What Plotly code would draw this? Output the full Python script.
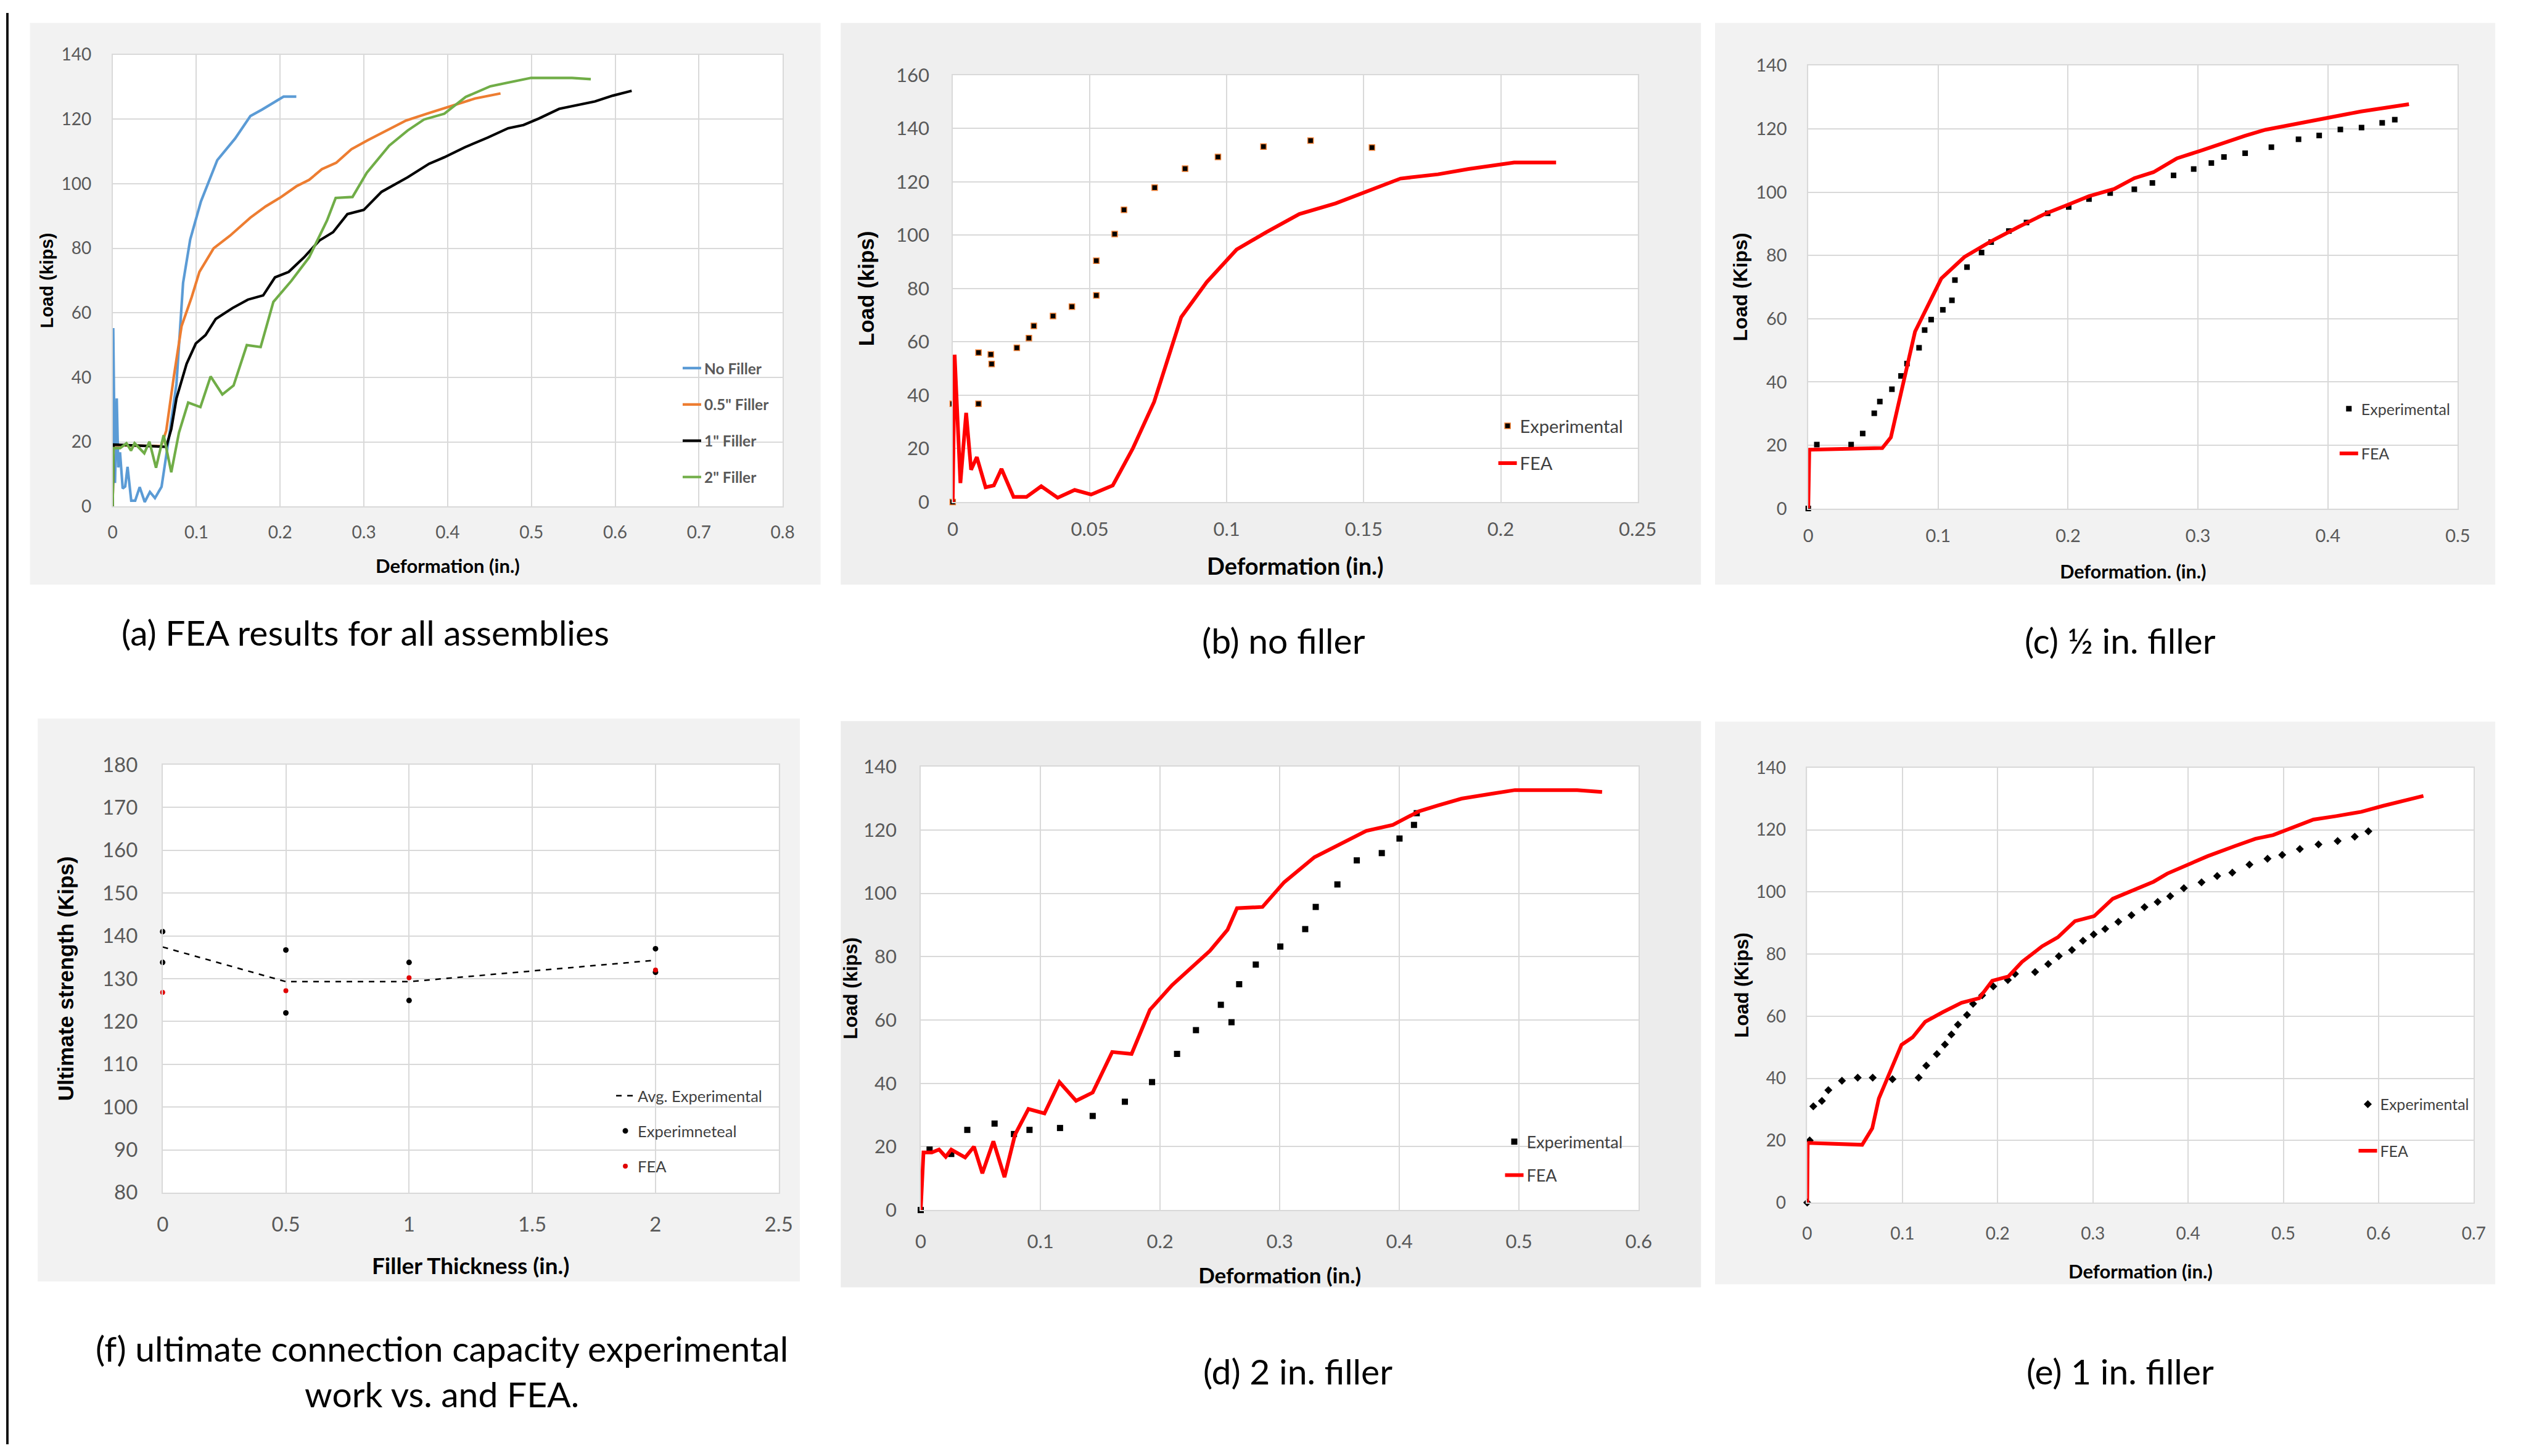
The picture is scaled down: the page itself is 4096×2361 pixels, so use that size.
import plotly.graph_objects as go

W, H = 4096, 2361

# ---------------- DATA ----------------
# (a) FEA results for all assemblies
a_nofill_x = [0, 0.0007, 0.0028, 0.0049, 0.0067, 0.0088, 0.012, 0.015, 0.0178, 0.0222, 0.0269, 0.0323, 0.0383,
              0.0445, 0.0505, 0.0584, 0.067, 0.0762, 0.0841, 0.0926, 0.1054, 0.1249, 0.1462, 0.1645, 0.1785,
              0.2041, 0.2193]
a_nofill_y = [0, 55.3, 7.3, 33.5, 12.1, 16.8, 5.6, 6.2, 12.3, 1.8, 1.8, 6.0, 1.4, 4.5, 2.6, 6.1, 21, 38, 69.3,
              82.7, 94.5, 107.3, 114, 121, 123, 127, 127]
a_half_x = [0, 0.0012, 0.0579, 0.064, 0.0731, 0.0823, 0.0944, 0.1036, 0.1206, 0.1401, 0.1645, 0.1828, 0.2011,
            0.2193, 0.2346, 0.2498, 0.2669, 0.2851, 0.3046, 0.3229, 0.3503, 0.3778, 0.4021, 0.4326, 0.4631]
a_half_y = [0, 19, 18.7, 23.5, 40.3, 55.9, 64.9, 72.7, 80, 83.9, 89.5, 93, 95.9, 99.2, 101.2, 104.5, 106.5,
            110.7, 113.5, 116, 119.6, 121.9, 123.9, 126.4, 128]
a_one_x = [0, 0.001, 0.064, 0.07, 0.0762, 0.0883, 0.0993, 0.1109, 0.1231, 0.1432, 0.1615, 0.1797, 0.1938,
           0.2102, 0.2285, 0.2468, 0.2632, 0.2803, 0.2998, 0.3211, 0.3522, 0.3778, 0.396, 0.4204, 0.4478,
           0.4722, 0.4905, 0.5088, 0.5331, 0.5545, 0.5758, 0.5971, 0.6197]
a_one_y = [0, 19.2, 18.5, 24, 33.5, 44.2, 50.5, 53.1, 58.1, 61.5, 64.1, 65.4, 71, 72.7, 77.2, 82.4, 85, 90.6,
           91.9, 97.5, 102, 106.2, 108.2, 111.3, 114.3, 117.2, 118.2, 120.2, 123.2, 124.3, 125.5, 127.3, 128.8]
a_two_x = [0, 0.001, 0.009, 0.0165, 0.0219, 0.0262, 0.0378, 0.0439, 0.0518, 0.0609, 0.07, 0.0792, 0.0902,
           0.1048, 0.117, 0.131, 0.1444, 0.1602, 0.1767, 0.1919, 0.2133, 0.2346, 0.2559, 0.2663, 0.2864,
           0.3034, 0.3302, 0.3522, 0.3717, 0.396, 0.4216, 0.4509, 0.4692, 0.4996, 0.5484, 0.5709]
a_two_y = [0, 18.1, 18.1, 19.6, 17.3, 19.6, 16.5, 20.1, 12, 22.1, 10.6, 22.9, 32.2, 30.8, 40.3, 34.7, 37.5,
           50, 49.4, 63.4, 69.9, 77.2, 88.6, 95.6, 95.9, 103.4, 111.8, 116.5, 119.9, 121.7, 126.9, 130.2,
           131.2, 132.8, 132.8, 132.4]

# (b) no filler
b_exp_x = [0, 0, 0.0094, 0.0094, 0.0139, 0.0142, 0.0234, 0.0278, 0.0296, 0.0366, 0.0435, 0.0524, 0.0524,
           0.0591, 0.0625, 0.0737, 0.0848, 0.0968, 0.1134, 0.1306, 0.153]
b_exp_y = [0, 36.8, 36.8, 56.0, 55.3, 51.7, 57.8, 61.4, 66.0, 69.7, 73.2, 77.4, 90.4, 100.4, 109.5, 117.8,
           124.9, 129.3, 133.2, 135.4, 132.8]
b_fea_x = [0, 0.0007, 0.0028, 0.0049, 0.0067, 0.0088, 0.012, 0.015, 0.0178, 0.0222, 0.0269, 0.0323, 0.0383,
           0.0445, 0.0505, 0.0584, 0.0657, 0.0735, 0.0834, 0.0927, 0.1036, 0.1144, 0.1265, 0.1397, 0.1634,
           0.1771, 0.1883, 0.2049, 0.2202]
b_fea_y = [0, 55.2, 7.1, 33.4, 12.1, 16.8, 5.5, 6.2, 12.4, 1.9, 1.9, 5.9, 1.6, 4.5, 2.8, 6.2, 20.0, 37.5, 69.3,
           82.4, 94.6, 101.1, 107.9, 111.9, 121.2, 122.8, 124.8, 127.2, 127.2]

# (c) 1/2 in. filler
c_exp_x = [0, 0.0066, 0.033, 0.0419, 0.0508, 0.0551, 0.0644, 0.0714, 0.076, 0.0853, 0.0896, 0.0946, 0.1036,
           0.1106, 0.1129, 0.1222, 0.1334, 0.1408, 0.1544, 0.168, 0.1843, 0.2005, 0.2161, 0.2324, 0.251,
           0.2649, 0.2812, 0.2967, 0.3103, 0.32, 0.3363, 0.3565, 0.3774, 0.3933, 0.4096, 0.4259, 0.4418, 0.4515]
c_exp_y = [0, 20.2, 20.2, 23.7, 30.1, 33.8, 37.7, 41.9, 45.8, 50.8, 56.4, 59.7, 62.8, 65.8, 72.2, 76.3, 80.9,
           84.2, 87.7, 90.4, 93.3, 95.3, 97.8, 99.7, 100.9, 102.9, 105.3, 107.3, 109.2, 111.1, 112.3, 114.2,
           116.7, 117.9, 119.8, 120.4, 121.9, 122.9]
c_fea_x = [0, 0.0008, 0.057, 0.0636, 0.0822, 0.1024, 0.1202, 0.1404, 0.1618, 0.1831, 0.2005, 0.2161, 0.2355,
           0.251, 0.2657, 0.2839, 0.3014, 0.3169, 0.3363, 0.3518, 0.3712, 0.3984, 0.4255, 0.4624]
c_fea_y = [0, 18.6, 19.1, 22.5, 55.9, 72.7, 79.5, 84.4, 89, 93.3, 96.1, 98.7, 101, 104.4, 106.3, 110.7, 113,
           115.2, 117.8, 119.7, 121.2, 123.5, 125.5, 127.8]

# (f) ultimate connection capacity
f_thick = [0, 0.5, 1, 2]
f_exp_x = [0, 0, 0.5, 0.5, 1, 1, 2, 2]
f_exp_y = [141, 133.8, 136.7, 122, 133.8, 124.9, 137, 131.5]
f_avg_y = [137.4, 129.3, 129.3, 134.3]
f_fea_y = [126.8, 127.2, 130.2, 132]

# (d) 2 in. filler
d_exp_x = [0, 0.0074, 0.0255, 0.0389, 0.0617, 0.0779, 0.0909, 0.1164, 0.1437, 0.1706, 0.1933, 0.2142, 0.23,
           0.2508, 0.2597, 0.2661, 0.28, 0.3005, 0.3213, 0.3301, 0.3482, 0.3644, 0.3853, 0.4001, 0.4122, 0.4145]
d_exp_y = [0, 19.1, 17.7, 25.3, 27.3, 24, 25.3, 25.9, 29.7, 34.2, 40.4, 49.3, 56.8, 64.8, 59.3, 71.3, 77.5,
           83.2, 88.7, 95.7, 102.8, 110.4, 112.7, 117.3, 121.6, 125.3]
d_fea_x = [0, 0.0023, 0.0093, 0.0153, 0.0209, 0.0255, 0.0371, 0.0445, 0.0515, 0.0607, 0.07, 0.0788, 0.09,
           0.1034, 0.1159, 0.1298, 0.1437, 0.16, 0.1762, 0.1915, 0.21, 0.2263, 0.2416, 0.2564, 0.2643, 0.2856,
           0.3037, 0.329, 0.3491, 0.3723, 0.3945, 0.4163, 0.4326, 0.452, 0.4766, 0.4966, 0.5485, 0.5694]
d_fea_y = [0, 18.2, 18.2, 19.1, 16.8, 19.1, 16.6, 20, 11.6, 21.7, 10.4, 23.8, 31.9, 30.5, 40.4, 34.5, 37.1,
           49.9, 49.3, 63.2, 71, 76.6, 81.8, 88.5, 95.3, 95.7, 103.5, 111.4, 115.4, 119.7, 121.6, 125.9, 127.8,
           129.9, 131.4, 132.6, 132.6, 132]

# (e) 1 in. filler
e_exp_x = [0, 0.0026, 0.0064, 0.0154, 0.0222, 0.0365, 0.053, 0.0688, 0.0895, 0.117, 0.125, 0.1361, 0.1446,
           0.1514, 0.1583, 0.1678, 0.1742, 0.1837, 0.1954, 0.2107, 0.2182, 0.2393, 0.2531, 0.2642, 0.278,
           0.2896, 0.3008, 0.3129, 0.3267, 0.3405, 0.3542, 0.368, 0.3812, 0.3955, 0.4141, 0.4305, 0.4464,
           0.4644, 0.4834, 0.4988, 0.5173, 0.5369, 0.557, 0.575, 0.5893]
e_exp_y = [0, 20, 31, 32.7, 36.2, 39.2, 40.2, 40.2, 39.7, 40.2, 44.1, 47.8, 50.9, 54.1, 57.3, 60.4, 64, 66.7,
           69.6, 71.6, 73.6, 74.2, 76.8, 79.3, 81.3, 84.3, 86.3, 88.1, 90.4, 92.5, 95.1, 96.8, 98.6, 101.2,
           103.1, 105.1, 106.2, 108.8, 110.7, 111.9, 113.8, 115.3, 116.4, 117.8, 119.5]
e_fea_x = [0, 0.0005, 0.0577, 0.0683, 0.0752, 0.0868, 0.099, 0.1107, 0.1239, 0.1424, 0.162, 0.1806, 0.1943,
           0.2113, 0.2256, 0.2467, 0.2632, 0.2812, 0.3013, 0.3209, 0.3426, 0.3638, 0.3781, 0.3993, 0.4204,
           0.4495, 0.4707, 0.4893, 0.5104, 0.5316, 0.5555, 0.5819, 0.6047, 0.6243, 0.6471]
e_fea_y = [0, 19.2, 18.6, 23.9, 33.5, 42.3, 50.8, 53.2, 58.2, 61.3, 64.3, 65.8, 71.4, 72.8, 77.5, 82.5, 85.4,
           90.6, 92.2, 97.8, 100.7, 103.3, 105.9, 108.6, 111.5, 114.8, 117.1, 118.3, 120.9, 123.3, 124.4, 125.8,
           127.7, 129.3, 130.9]

captions = {
    "a": "(a) FEA results for all assemblies",
    "b": "(b) no filler",
    "c": "(c) ½ in. filler",
    "f": "(f) ultimate connection capacity experimental<br>work vs. and FEA.",
    "d": "(d) 2 in. filler",
    "e": "(e) 1 in. filler",
}

# ---------------- LAYOUT HELPERS (px -> paper) ----------------
def fx(px):
    return px / W


def fy(py):
    return 1 - py / H


GRID = "#d9d9d9"
TICKC = "#595959"
SANS = "Lato"
HEAVY = "Liberation Sans"

# panel geometry (px): plot area, background box
P = {
    "a": dict(ax="x", ay="y", leg="legend", plot=(174.4, 1271.9, 68.8, 814.1), bg=(39, 1334, 16.5, 943), bgc="#f2f2f2"),
    "b": dict(ax="x2", ay="y2", leg="legend2", plot=(1550.4, 2672.4, 102.4, 806.7), bg=(1367, 2776, 16.5, 943), bgc="#efefef"),
    "c": dict(ax="x3", ay="y3", leg="legend3", plot=(2951.7, 4015.6, 86.8, 817.4), bg=(2799, 4077, 16.5, 943), bgc="#f2f2f2"),
    "f": dict(ax="x4", ay="y4", leg="legend4", plot=(256.3, 1265.4, 1240.0, 1945.9), bg=(51.6, 1300, 1164, 2092.5), bgc="#f2f2f2"),
    "d": dict(ax="x5", ay="y5", leg="legend5", plot=(1498.0, 2674.0, 1243.2, 1974.6), bg=(1367, 2776, 1168, 2102), bgc="#ececec"),
    "e": dict(ax="x6", ay="y6", leg="legend6", plot=(2950.0, 4041.8, 1244.9, 1962.3), bg=(2799, 4077, 1169, 2097), bgc="#f2f2f2"),
}

fig = go.Figure()


def add(key, **kw):
    p = P[key]
    fig.add_trace(go.Scatter(xaxis=p["ax"], yaxis=p["ay"], legend=p["leg"], cliponaxis=False, **kw))


LW_A = 4.2
LW_RED = 6

# (a)
add("a", x=a_nofill_x, y=a_nofill_y, mode="lines", name="No Filler", legendgroup="a1",
    line=dict(color="#5B9BD5", width=LW_A))
add("a", x=a_half_x, y=a_half_y, mode="lines", name="0.5\" Filler", legendgroup="a2",
    line=dict(color="#ED7D31", width=LW_A))
add("a", x=a_one_x, y=a_one_y, mode="lines", name="1\" Filler", legendgroup="a3",
    line=dict(color="#000000", width=LW_A))
add("a", x=a_two_x, y=a_two_y, mode="lines", name="2\" Filler", legendgroup="a4",
    line=dict(color="#70AD47", width=LW_A))
# (b)
add("b", x=b_exp_x, y=b_exp_y, mode="markers", name="Experimental", legendgroup="b1",
    marker=dict(symbol="square", size=9, color="#000000", line=dict(color="#ED7D31", width=1.5)))
add("b", x=b_fea_x, y=b_fea_y, mode="lines", name="FEA", legendgroup="b2",
    line=dict(color="#FF0000", width=LW_RED))
# (c)
add("c", x=c_exp_x, y=c_exp_y, mode="markers", name="Experimental", legendgroup="c1",
    marker=dict(symbol="square", size=9, color="#000000"))
add("c", x=c_fea_x, y=c_fea_y, mode="lines", name="FEA", legendgroup="c2",
    line=dict(color="#FF0000", width=LW_RED))
# (f)
add("f", x=f_thick, y=f_avg_y, mode="lines", name="Avg. Experimental", legendgroup="f1",
    line=dict(color="#000000", width=2.5, dash="dash"))
add("f", x=f_exp_x, y=f_exp_y, mode="markers", name="Experimneteal", legendgroup="f2",
    marker=dict(symbol="circle", size=9, color="#000000"))
add("f", x=f_thick, y=f_fea_y, mode="markers", name="FEA", legendgroup="f3",
    marker=dict(symbol="circle", size=8, color="#E00000"))
# (d)
add("d", x=d_exp_x, y=d_exp_y, mode="markers", name="Experimental", legendgroup="d1",
    marker=dict(symbol="square", size=10, color="#000000"))
add("d", x=d_fea_x, y=d_fea_y, mode="lines", name="FEA", legendgroup="d2",
    line=dict(color="#FF0000", width=LW_RED))
# (e)
add("e", x=e_exp_x, y=e_exp_y, mode="markers", name="Experimental", legendgroup="e1",
    marker=dict(symbol="diamond", size=10, color="#000000"))
add("e", x=e_fea_x, y=e_fea_y, mode="lines", name="FEA", legendgroup="e2",
    line=dict(color="#FF0000", width=LW_RED))

# axes specs: key -> (xrange, dx, yrange, dy, tickfont, xtitle, xtfont, xstand, ytitle, ytfont, ystand, ylab_gap, xlab_gap)
A = {
    "a": ([0, 0.8], 0.1, [0, 140], 20, 28, "Deformation (in.)", 31, 30, "Load (kips)", 29, 4, 27, 16),
    "b": ([0, 0.25], 0.05, [0, 160], 20, 31, "Deformation (in.)", 38, 30, "Load (kips)", 35, 25, 30, 16),
    "c": ([0, 0.5], 0.1, [0, 140], 20, 29, "Deformation. (in.)", 30.5, 33, "Load (Kips)", 32, 4, 27, 18),
    "f": ([0, 2.5], 0.5, [80, 180], 10, 33, "Filler Thickness (in.)", 37, 37, "Ultimate strength (Kips)", 35, 36, 32, 22),
    "d": ([0, 0.6], 0.1, [0, 140], 20, 31, "Deformation (in.)", 35, 26, "Load (kips)", 31, 0, 31, 23),
    "e": ([0, 0.7], 0.1, [0, 140], 20, 28, "Deformation (in.)", 31, 36, "Load (Kips)", 31, 3, 27, 25),
}

layout = dict(
    width=W, height=H, margin=dict(l=0, r=0, t=0, b=0, pad=0),
    paper_bgcolor="white", plot_bgcolor="rgba(0,0,0,0)",
    font=dict(family=SANS, color=TICKC),
    shapes=[], annotations=[],
)

for key, p in P.items():
    xr, dx, yr, dy, tfs, xt, xtf, xst, yt, ytf, yst, ygap, xgap = A[key]
    x0, x1, y0, y1 = p["plot"]
    xname = "xaxis" + p["ax"][1:]
    yname = "yaxis" + p["ay"][1:]
    common = dict(showgrid=True, gridcolor=GRID, gridwidth=1.5, showline=True, linecolor=GRID, linewidth=1.5,
                  mirror=True, zeroline=False, ticks="", ticklen=0, fixedrange=True,
                  tickfont=dict(family=SANS, size=tfs, color=TICKC))
    layout[xname] = dict(common, domain=[fx(x0), fx(x1)], anchor=p["ay"], range=xr, dtick=dx, tick0=0,
                         ticklabelstandoff=xgap,
                         title=dict(text=xt, standoff=xst,
                                    font=dict(family=SANS, size=xtf, color="#000000", weight="bold")))
    layout[yname] = dict(common, domain=[fy(y1), fy(y0)], anchor=p["ax"], range=yr, dtick=dy, tick0=0,
                         ticklabelstandoff=ygap,
                         title=dict(text=yt, standoff=yst,
                                    font=dict(family=HEAVY, size=ytf, color="#000000", weight="bold")))
    bx0, bx1, by0, by1 = p["bg"]
    layout["shapes"].append(dict(type="rect", xref="paper", yref="paper", x0=fx(bx0), x1=fx(bx1),
                                 y0=fy(by1), y1=fy(by0), fillcolor=p["bgc"], line=dict(width=0),
                                 layer="below"))
    layout["shapes"].append(dict(type="rect", xref="paper", yref="paper", x0=fx(x0), x1=fx(x1),
                                 y0=fy(y1), y1=fy(y0), fillcolor="#ffffff", line=dict(width=0),
                                 layer="below"))

# left black bar
layout["shapes"].append(dict(type="rect", xref="paper", yref="paper", x0=0, x1=4 / W, y0=0, y1=1,
                             fillcolor="#111111", line=dict(width=0), layer="above"))

# legends: key -> (text_left_px, first_center_px, font size, gap, bold, color)
L = {
    "a": (1143, 584, 24.5, 24, True, "#595959"),
    "b": (2479, 679, 29, 20, False, "#404040"),
    "c": (3857, 651, 25, 37, False, "#404040"),
    "f": (1034, 1784, 25.5, 21, False, "#404040"),
    "d": (2490, 1860, 27, 16, False, "#404040"),
    "e": (3888, 1798, 25, 40, False, "#404040"),
}
for key, (tl, fc, fs, gap, bold, col) in L.items():
    name = P[key]["leg"]
    layout[name] = dict(x=fx(tl - 40), y=fy(fc - fs * 0.65 - 5), xanchor="left", yanchor="top",
                        bgcolor="rgba(0,0,0,0)", borderwidth=0, tracegroupgap=gap, traceorder="grouped",
                        font=dict(family=SANS, size=fs, color=col, weight="bold" if bold else "normal"))

# captions
CAP = {
    "a": (588, 1021),
    "b": (2092, 1035),
    "c": (3463, 1035),
    "f": (714, 2240),
    "d": (2116, 2240),
    "e": (3463, 2240),
}
for key, (cx, cy) in CAP.items():
    layout["annotations"].append(dict(xref="paper", yref="paper", x=fx(cx), y=fy(cy), text=captions[key],
                                      showarrow=False, xanchor="center", yanchor="middle",
                                      font=dict(family=SANS, size=57, color="#000000")))

fig.update_layout(**layout)
fig.write_html(
    "out.html",
    post_script="document.documentElement.style.margin='0';document.body.style.margin='0';"
                "document.body.style.overflow='hidden';",
)
